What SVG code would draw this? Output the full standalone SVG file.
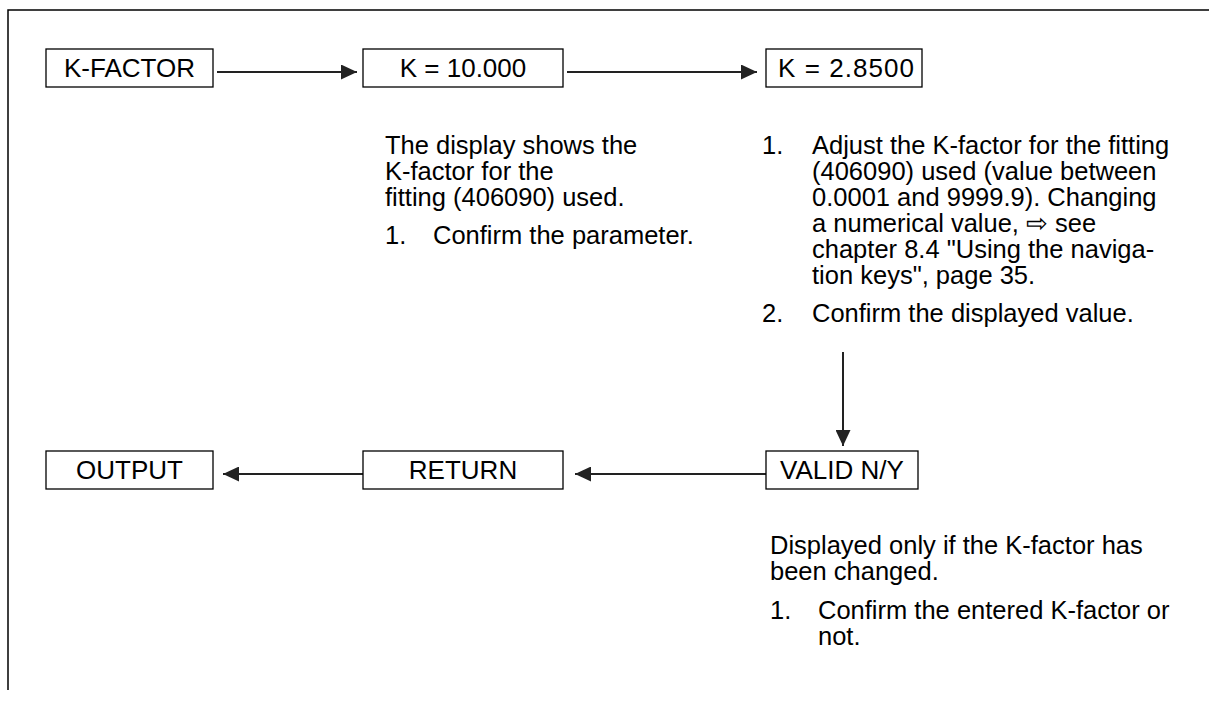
<svg xmlns="http://www.w3.org/2000/svg" width="1209" height="701" viewBox="0 0 1209 701">
<style>
  .box { fill: #fff; stroke: #000; stroke-width: 1.3; }
  .t { font-family: "Liberation Sans", Arial, sans-serif; font-size: 25.5px; fill: #000; }
  .bt { font-family: "Liberation Sans", Arial, sans-serif; font-size: 26px; fill: #000; text-anchor: middle; }
  .c { stroke: #222; stroke-width: 2; fill: none; }
  .frame { stroke: #000; stroke-width: 1.5; fill: none; }
</style>
<defs>
  <marker id="ah" viewBox="0 0 16 15" refX="16" refY="7.5" markerWidth="16" markerHeight="15" markerUnits="userSpaceOnUse" orient="auto">
    <path d="M0,0 L16,7.5 L0,15 Z" fill="#222"/>
  </marker>
</defs>
<rect width="1209" height="701" fill="#fff"/>
<path class="frame" d="M8,690 L8,10 L1209,10"/>

<g id="connectors">
  <line class="c" x1="217" y1="72" x2="357" y2="72" marker-end="url(#ah)"/>
  <line class="c" x1="567" y1="72" x2="757" y2="72" marker-end="url(#ah)"/>
  <line class="c" x1="843" y1="352" x2="843" y2="446" marker-end="url(#ah)"/>
  <line class="c" x1="766" y1="474" x2="575" y2="474" marker-end="url(#ah)"/>
  <line class="c" x1="363" y1="474" x2="223" y2="474" marker-end="url(#ah)"/>
</g>

<g id="kfactor"><rect class="box" x="46" y="49" width="167" height="38"/><text class="bt" x="129.5" y="77">K-FACTOR</text></g>
<g id="k10"><rect class="box" x="363" y="49" width="200" height="38"/><text class="bt" x="463" y="77">K = 10.000</text></g>
<g id="k285"><rect class="box" x="766" y="49" width="156" height="38"/><text class="bt" x="846" y="77" textLength="136">K = 2.8500</text></g>
<g id="output"><rect class="box" x="46" y="451" width="167" height="38"/><text class="bt" x="129.5" y="479">OUTPUT</text></g>
<g id="return"><rect class="box" x="363" y="451" width="200" height="38"/><text class="bt" x="463" y="479">RETURN</text></g>
<g id="valid"><rect class="box" x="766" y="451" width="152" height="38"/><text class="bt" x="842" y="479">VALID N/Y</text></g>

<g id="text-k10">
  <text class="t" x="385" y="154">The display shows the</text>
  <text class="t" x="385" y="180">K-factor for the</text>
  <text class="t" x="385" y="206">fitting (406090) used.</text>
  <text class="t" x="385" y="244">1.</text>
  <text class="t" x="433" y="244">Confirm the parameter.</text>
</g>
<g id="text-k285">
  <text class="t" x="762" y="154">1.</text>
  <text class="t" x="812" y="154">Adjust the K-factor for the fitting</text>
  <text class="t" x="812" y="180">(406090) used (value between</text>
  <text class="t" x="812" y="206">0.0001 and 9999.9). Changing</text>
  <text class="t" x="812" y="232">a numerical value, ⇨ see</text>
  <text class="t" x="812" y="258">chapter 8.4 "Using the naviga-</text>
  <text class="t" x="812" y="284">tion keys", page 35.</text>
  <text class="t" x="762" y="322">2.</text>
  <text class="t" x="812" y="322">Confirm the displayed value.</text>
</g>
<g id="text-valid">
  <text class="t" x="770" y="554">Displayed only if the K-factor has</text>
  <text class="t" x="770" y="580">been changed.</text>
  <text class="t" x="770" y="619">1.</text>
  <text class="t" x="818" y="619">Confirm the entered K-factor or</text>
  <text class="t" x="818" y="645">not.</text>
</g>
</svg>
